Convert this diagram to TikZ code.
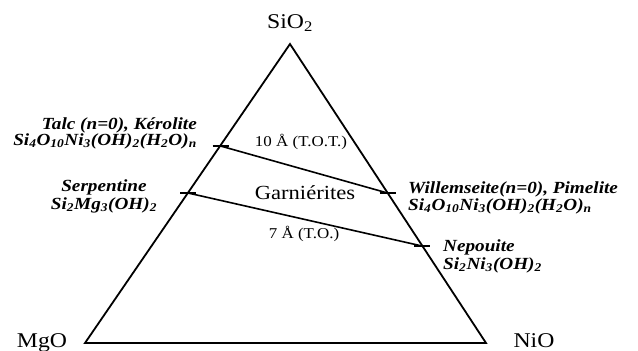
\documentclass[tikz,border=0pt]{standalone}
\usepackage{fontspec}
\usepackage{graphicx}
\setmainfont{Liberation Serif}
\setlength{\lineskiplimit}{-30pt}
\newcommand{\sbs}[1]{\textsubscript{#1}}
\newcommand{\wide}[1]{\scalebox{1.13}[1]{#1}}
\begin{document}
\begin{tikzpicture}[x=1pt,y=-1pt,
  edge/.style={line width=1.8pt, line join=miter},
  tie/.style={line width=1.6pt},
  oxide/.style={inner sep=0pt, anchor=base, text depth=2pt, font=\fontsize{21}{24}\selectfont},
  mineral/.style={inner sep=0pt, font=\fontsize{17}{#1}\selectfont\bfseries\itshape},
  inlabel/.style={inner sep=0pt, font=\fontsize{15}{17}\selectfont},
  bigin/.style={inner sep=0pt, font=\fontsize{20}{23}\selectfont},
]
\useasboundingbox (0,0) rectangle (638,351);
% triangle
\coordinate (M) at (85,343);
\coordinate (N) at (486,343);
\coordinate (S) at (290,44);
\draw[edge] (M) -- (S) -- (N) -- cycle;
% tie lines
\coordinate (T1) at (220.5,146);
\coordinate (T2) at (387.5,193);
\coordinate (P1) at (188,193);
\coordinate (P2) at (422,246);
\draw[tie] (T1) -- (T2);
\draw[tie] (P1) -- (P2);
\foreach \c in {T1,T2,P1,P2}{
  \draw[tie] ([xshift=-8pt]\c) -- ([xshift=8pt]\c);
}
% oxide labels
\node[oxide] (sio2) at (290,28) {\wide{SiO\sbs{2}}};
\node[oxide] (mgo) at (42,347) {\wide{MgO}};
\node[oxide] (nio) at (534,347) {\wide{NiO}};
% left minerals (anchor = baseline of last line)
\node[mineral=15.5, align=right, anchor=base east] (talc) at (197,145)
  {\wide{Talc (n=0), Kérolite}\\ \wide{Si\sbs{4}O\sbs{10}Ni\sbs{3}(OH)\sbs{2}(H\sbs{2}O)\sbs{n}}};
\node[mineral=18, align=center, anchor=base] (serp) at (104,209)
  {\wide{Serpentine}\\ \wide{Si\sbs{2}Mg\sbs{3}(OH)\sbs{2}}};
% right minerals
\node[mineral=17, align=left, anchor=base west] (will) at (408,210)
  {\wide{Willemseite(n=0), Pimelite}\\ \wide{Si\sbs{4}O\sbs{10}Ni\sbs{3}(OH)\sbs{2}(H\sbs{2}O)\sbs{n}}};
\node[mineral=18, align=left, anchor=base west] (nep) at (443,269)
  {\wide{Nepouite}\\ \wide{Si\sbs{2}Ni\sbs{3}(OH)\sbs{2}}};
% interior labels
\node[inlabel] (tot) at (301,142) {\wide{10 Å (T.O.T.)}};
\node[bigin] (garn) at (305,193) {\wide{Garniérites}};
\node[inlabel] (to) at (304,234) {\wide{7 Å (T.O.)}};
\end{tikzpicture}
\end{document}
